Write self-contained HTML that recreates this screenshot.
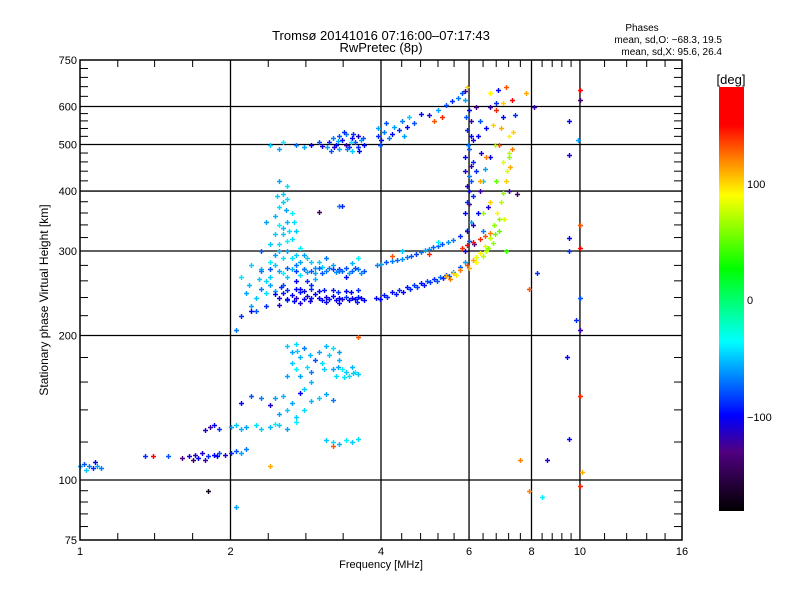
<!DOCTYPE html>
<html>
<head>
<meta charset="utf-8">
<style>
html,body{margin:0;padding:0;background:#fff;}
svg{display:block;font-family:"Liberation Sans",sans-serif;}
</style>
</head>
<body>
<svg id="chart" width="800" height="600" viewBox="0 0 800 600">
<defs>
<linearGradient id="cbar" x1="0" y1="0" x2="0" y2="1">
<stop offset="0" stop-color="#ff0000"/>
<stop offset="0.089" stop-color="#ff0000"/>
<stop offset="0.18" stop-color="#ff9000"/>
<stop offset="0.255" stop-color="#ffff00"/>
<stop offset="0.428" stop-color="#00ff00"/>
<stop offset="0.6" stop-color="#00ffff"/>
<stop offset="0.775" stop-color="#0000ff"/>
<stop offset="0.86" stop-color="#500080"/>
<stop offset="1" stop-color="#000000"/>
</linearGradient>
</defs>
<text x="381" y="40" text-anchor="middle" font-size="13">Tromsø 20141016 07:16:00–07:17:43</text>
<text x="381" y="52" text-anchor="middle" font-size="13">RwPretec (8p)</text>
<text x="642" y="31" text-anchor="middle" font-size="10">Phases</text>
<text x="722" y="43" text-anchor="end" font-size="10">mean, sd,O: −68.3, 19.5</text>
<text x="722" y="55" text-anchor="end" font-size="10">mean, sd,X:  95.6, 26.4</text>
<g id="grid"></g>
<g id="ticks"></g>
<g id="points"></g>
<rect x="80" y="60" width="602" height="480" fill="none" stroke="#000" stroke-width="1.5"/>
<text font-size="12" transform="translate(48,300) rotate(-90)" text-anchor="middle">Stationary phase Virtual Height [km]</text>
<text x="381" y="568" text-anchor="middle" font-size="11">Frequency [MHz]</text>
<rect x="719" y="87" width="25" height="424" fill="url(#cbar)"/>
<text x="731" y="84" text-anchor="middle" font-size="13">[deg]</text>
<text x="747" y="188" font-size="11">100</text>
<text x="747" y="304" font-size="11">0</text>
<text x="747" y="421" font-size="11">−100</text>
</svg>
<script>
const xTickValues = [1, 2, 4, 6, 8, 10, 16];
const xTickLabels = ["1", "2", "4", "6", "8", "10", "16"];
const xGridValues = [2, 4, 6, 8, 10];
const xMinorValues = [1.19, 1.41, 1.68, 2.38, 2.83, 3.36, 4.4, 4.8, 5.2, 5.6, 6.4, 6.8, 7.2, 7.6, 8.4, 8.8, 9.2, 9.6, 11.2, 12.4, 13.6, 14.8];
const yTickValues = [75, 100, 200, 300, 400, 500, 600, 750];
const yTickLabels = ["75", "100", "200", "300", "400", "500", "600", "750"];
const yGridValues = [100, 200, 300, 400, 500, 600];
const yMinorValues = [80, 85, 90, 95, 120, 140, 160, 180, 220, 240, 260, 280, 320, 340, 360, 380, 420, 440, 460, 480, 520, 540, 560, 580, 630, 660, 690, 720];

// [frequency MHz, virtual height km, phase deg]
const oTraceLower = [[2.45,244,-100],[2.5,239,-110],[2.55,245,-95],[2.6,238,-105],[2.65,243,-100],[2.7,240,-115],[2.75,246,-95],[2.8,238,-100],[2.85,242,-110],[2.9,239,-95],[2.95,244,-100],[3.0,240,-105],[3.05,237,-100],[3.1,241,-110],[3.15,238,-95],[3.2,242,-100],[3.25,237,-105],[3.3,240,-100],[3.35,238,-110],[3.4,241,-90],[3.45,237,-100],[3.5,240,-105],[3.55,238,-100],[3.6,241,-95],[3.65,239,-105],[3.7,237,-100],[2.6,249,-90],[2.7,250,-100],[2.8,248,-105],[2.9,250,-90],[3.0,248,-100],[3.2,249,-95],[3.4,248,-100],[3.6,249,-90],[2.75,234,-110],[3.1,235,-105],[3.3,234,-100],[2.52,252,-90],[2.68,236,-100],[2.88,236,-110],[3.08,249,-95],[3.28,247,-90],[3.48,247,-100],[3.58,235,-95],[3.9,240,-100],[4.05,243,-95],[4.2,246,-100],[4.35,249,-90],[4.5,252,-95],[4.65,255,-85],[4.8,257,-95],[4.95,260,-80],[5.1,262,-90],[5.25,265,-75],[5.4,268,-85],[5.57,271,-70],[5.75,278,-80],[5.9,285,-60],[3.98,238,-100],[4.12,241,-90],[4.28,244,-95],[4.42,247,-100],[4.58,250,-90],[4.72,253,-85],[4.88,255,-95],[5.02,258,-85],[5.18,260,-80],[5.32,263,-90],[5.48,266,-75]];
const oTraceUpper = [[2.3,272,-70],[2.4,275,-80],[2.5,273,-60],[2.6,276,-75],[2.7,272,-85],[2.8,275,-70],[2.9,273,-80],[3.0,276,-75],[3.1,272,-70],[3.2,275,-85],[3.3,273,-70],[3.4,276,-80],[3.5,273,-75],[3.6,275,-70],[3.7,272,-80],[2.85,271,-60],[2.95,277,-65],[3.05,270,-80],[3.15,277,-70],[3.25,271,-65],[3.35,272,-75],[3.45,270,-60],[3.55,277,-80],[3.65,270,-65],[3.93,280,-70],[4.1,284,-80],[4.3,287,-75],[4.51,291,-70],[4.7,296,-85],[4.9,301,-60],[5.09,306,-75],[5.3,311,-80],[5.57,316,-70],[5.75,322,-90],[5.94,332,-60],[4.0,282,-60],[4.2,286,-70],[4.4,289,-65],[4.6,293,-80],[4.8,298,-70],[5.0,303,-65],[5.2,308,-75],[5.45,313,-65],[4.4,300,-50],[4.2,293,130],[5.0,296,140],[5.2,313,-40]];
const xTrace = [[5.4,266,110],[5.57,270,100],[5.75,274,120],[5.94,280,130],[6.1,288,110],[6.3,297,90],[6.45,308,80],[6.6,320,70],[6.72,340,60],[6.84,360,90],[6.95,380,70],[7.0,397,60],[7.1,420,100],[7.25,449,110],[7.3,490,120],[7.36,530,100],[5.8,305,140],[5.94,309,150],[6.1,313,145],[6.3,318,140],[6.45,322,130],[6.6,327,120],[5.5,262,120],[5.65,268,95],[6.2,292,80],[6.5,300,70],[6.7,312,60],[6.9,330,50],[7.05,350,80],[6.4,360,60],[6.6,380,100],[6.8,420,50],[7.0,460,80],[6.9,500,130],[6.5,470,120],[6.7,550,100],[7.2,520,90],[6.3,420,110],[6.9,350,60],[7.1,300,40],[7.2,480,70],[6.8,590,140],[6.6,640,90],[7.0,610,100],[6.0,276,110],[6.2,284,90],[6.4,293,70],[6.55,305,60],[6.75,325,50],[7.15,440,80],[7.2,470,60],[6.95,540,110],[6.75,500,70]];
const nearSix = [[5.9,300,-110],[6.0,315,-80],[5.95,330,-120],[6.05,345,-60],[5.9,360,-100],[6.0,375,-130],[6.1,390,-90],[5.95,410,-110],[6.0,430,-70],[6.05,450,-120],[5.9,470,-100],[6.0,490,-80],[6.1,510,-110],[5.95,535,-90],[6.05,560,-120],[6.0,590,-100],[5.9,620,-60],[6.2,600,-130],[6.3,560,-80],[6.25,520,-100],[6.35,480,-110],[6.2,440,-90],[6.3,400,-120],[6.25,360,-100],[6.4,330,-70],[6.15,310,-130],[6.5,540,-100],[6.6,600,-120],[6.8,610,-90],[7.0,570,-100],[6.45,445,-60],[6.55,370,-110],[7.2,400,-120],[7.5,395,-140],[6.6,470,-100],[6.4,420,-50],[6.1,340,-110],[5.95,380,-90],[6.0,400,-100],[6.05,420,-80],[5.9,440,-110],[6.1,460,-90],[5.98,500,-70],[6.05,520,-100],[5.92,570,-80]];
const topBand = [[2.4,500,-50],[2.5,490,-60],[2.55,505,-40],[2.7,500,-70],[2.8,495,-60],[2.9,500,-100],[3.0,505,-80],[3.05,497,-110],[3.15,505,-90],[3.2,515,-70],[3.25,500,-100],[3.3,520,-80],[3.3,490,-60],[3.35,510,-100],[3.4,500,-120],[3.4,525,-70],[3.45,495,-90],[3.5,515,-100],[3.5,485,-50],[3.55,505,-80],[3.6,520,-110],[3.6,495,-90],[3.65,510,-60],[3.7,500,-100],[3.38,530,-90],[3.22,495,-110],[3.28,508,-60],[3.48,505,-45],[3.62,485,-100],[3.18,485,-80],[3.42,490,-70],[3.52,525,-90],[3.68,515,-80],[3.12,495,-60],[3.95,520,-90],[3.95,540,-60],[4.0,510,-100],[4.05,530,-70],[4.1,555,-80],[4.2,525,-100],[4.25,545,-60],[4.35,535,-90],[4.4,560,-70],[4.5,545,-100],[4.55,570,-50],[4.65,555,-80],[3.98,500,-80],[4.15,515,-70],[4.45,520,-60],[4.8,580,-100],[5.0,575,-110],[5.2,590,-60],[5.4,605,-80],[5.55,615,-90],[5.7,625,-70],[5.8,640,-80],[5.95,660,100],[5.9,645,-120],[5.3,570,140],[5.1,560,130]];
const spreadF = [[2.2,230,-60],[2.25,240,-50],[2.3,250,-70],[2.35,260,-45],[2.3,275,-55],[2.4,285,-40],[2.45,295,-60],[2.5,310,-45],[2.55,325,-50],[2.5,340,-40],[2.45,355,-55],[2.5,370,-45],[2.55,380,-50],[2.6,300,-60],[2.65,290,-45],[2.7,280,-70],[2.6,265,-50],[2.55,255,-80],[2.45,248,-60],[2.65,318,-45],[2.6,345,-55],[2.7,330,-50],[2.75,305,-40],[2.8,295,-60],[2.4,265,-50],[2.35,230,-90],[2.7,260,-100],[2.8,275,-70],[2.9,285,-50],[2.6,237,-80],[2.5,232,-110],[2.85,260,-90],[2.55,395,-50],[2.6,410,-45],[2.5,420,-60],[2.3,300,-80],[2.45,325,-50],[2.65,360,-40],[2.75,250,-100],[2.9,255,-90],[2.95,270,-60],[3.0,285,-50],[3.1,290,-70],[3.2,280,-60],[3.3,275,-90],[3.4,265,-100],[3.5,283,-55],[3.6,290,-40],[2.2,280,-50],[2.1,265,-45],[2.15,245,-60],[2.25,225,-80],[2.55,270,-40],[2.4,310,-50],[2.35,345,-60],[2.6,385,-45],[3.0,362,-140],[3.3,373,-70],[3.35,372,-90],[2.45,280,-50],[2.55,290,-45],[2.65,275,-55],[2.75,285,-60],[2.85,290,-50],[2.5,300,-55],[2.6,315,-40],[2.7,295,-50],[2.4,255,-60],[2.35,245,-45],[2.55,335,-55],[2.62,330,-45],[2.48,390,-50],[2.58,365,-60],[2.68,345,-45],[2.28,262,-50],[2.18,255,-55],[2.75,268,-45],[2.95,262,-55],[3.05,278,-50]];
const lowerLayers = [[2.6,190,-50],[2.65,185,-60],[2.7,192,-45],[2.75,180,-55],[2.8,188,-70],[2.65,175,-50],[2.7,170,-40],[2.75,165,-60],[2.85,172,-45],[2.9,168,-70],[2.95,178,-80],[3.0,185,-60],[3.05,175,-45],[3.1,190,-55],[3.15,182,-50],[3.2,170,-60],[3.25,165,-45],[3.3,178,-55],[3.35,170,-40],[3.4,168,-50],[3.45,165,-45],[3.5,172,-55],[3.55,168,-40],[3.6,166,-50],[3.2,188,-45],[3.3,185,-60],[2.9,160,-55],[2.6,165,-60],[2.8,155,-50],[2.72,186,-50],[2.88,182,-55],[3.08,170,-50],[3.38,164,-45],[3.52,167,-50],[3.28,172,-60],[2.1,145,-100],[2.2,150,-80],[2.3,148,-70],[2.4,143,-110],[2.45,148,-60],[2.55,150,-55],[2.6,140,-50],[2.65,145,-60],[2.75,152,-100],[2.8,140,-45],[2.9,146,-55],[3.0,148,-50],[3.1,151,-60],[3.2,147,-70],[2.7,135,-50],[2.5,137,-60],[1.78,127,-110],[1.82,129,-120],[1.85,130,-100],[1.9,128,-90],[2.0,129,-60],[2.05,130,-50],[2.1,128,-55],[2.15,129,-60],[2.25,130,-45],[2.3,128,-50],[2.4,129,-55],[2.45,131,-40],[2.5,130,-50],[2.6,128,-60],[2.7,132,-40],[3.1,121,-50],[3.2,120,-45],[3.3,119,-55],[3.4,121,-40],[3.5,120,-50],[3.6,122,-45],[1.5,112,-80],[1.6,111,-130],[1.65,112,-110],[1.7,113,-120],[1.72,111,-100],[1.75,114,-110],[1.8,112,-90],[1.85,113,-100],[1.9,114,-80],[1.95,113,-110],[2.0,114,-90],[2.05,115,-80],[2.1,114,-60],[2.15,116,-70],[1.68,110,-140],[1.78,110,-120],[1.88,112,-100],[1.0,107,-60],[1.02,108,-80],[1.04,107,-70],[1.06,106,-90],[1.08,107,-60],[1.1,106,-70],[1.03,105,-50],[1.07,109,-100]];
const scattered = [[1.35,112,-90],[1.4,112,150],[1.8,95,-170],[2.05,88,-60],[2.1,220,-90],[2.05,205,-70],[2.2,225,-100],[3.6,199,130],[2.4,107,110],[3.2,118,130],[7.9,95,120],[8.4,92,-40],[8.6,110,-110],[7.6,110,120],[10,97,140],[10.1,104,110],[9.5,122,-100],[10,150,140],[9.4,180,-100],[10,205,-120],[9.8,215,-90],[7.9,250,130],[10,240,-80],[9.5,320,-100],[10,305,150],[10,340,130],[9.5,300,-90],[8.2,270,-90],[9.5,475,-110],[9.5,560,-100],[10,620,-140],[10,650,160],[9.9,510,-60],[7.8,640,110],[8.1,600,-120],[7.3,620,150],[7.1,660,130],[6.85,650,-100],[7.4,575,-90]];

const SVGNS = "http://www.w3.org/2000/svg";
const X0 = 80, X1 = 682, Y0 = 60, Y1 = 540;
function xScale(f){ return X0 + (X1 - X0) * Math.log2(f) / 4; }
function yScale(h){ return Y0 + 480 * Math.log10(750 / h); }
const cStops = [[-180,[0,0,0]],[-130,[80,0,128]],[-100,[0,0,255]],[-37,[0,255,255]],[26,[0,255,0]],[88,[255,255,0]],[115,[255,150,0]],[148,[255,0,0]],[180,[255,0,0]]];
function color(v){
  v = Math.max(-180, Math.min(180, v));
  for (let i = 0; i < cStops.length - 1; i++){
    const a = cStops[i], b = cStops[i+1];
    if (v >= a[0] && v <= b[0]){
      const t = (v - a[0]) / (b[0] - a[0]);
      const c = a[1].map((q, k) => Math.round(q + (b[1][k] - q) * t));
      return "rgb(" + c.join(",") + ")";
    }
  }
  return "#000";
}
function line(g, x1, y1, x2, y2, w){
  const l = document.createElementNS(SVGNS, "line");
  l.setAttribute("x1", x1); l.setAttribute("y1", y1);
  l.setAttribute("x2", x2); l.setAttribute("y2", y2);
  l.setAttribute("stroke", "#000"); l.setAttribute("stroke-width", w);
  g.appendChild(l);
  return l;
}
function text(g, x, y, s, anchor){
  const t = document.createElementNS(SVGNS, "text");
  t.setAttribute("x", x); t.setAttribute("y", y);
  t.setAttribute("font-size", "11");
  t.setAttribute("text-anchor", anchor);
  t.textContent = s;
  g.appendChild(t);
  return t;
}
const grid = document.getElementById("grid");
xGridValues.forEach(v => {
  const l = line(grid, xScale(v), Y0, xScale(v), Y1, 1.3);
  
  
});
yGridValues.forEach(v => {
  const l = line(grid, X0, yScale(v), X1, yScale(v), 1.3);
  
  
});
const ticks = document.getElementById("ticks");
xMinorValues.forEach(v => {
  const x = xScale(v);
  const a = line(ticks, x, Y1, x, Y1 - 7, 1);
  
  
  const b = line(ticks, x, Y0, x, Y0 + 7, 1);
  
  
});
yMinorValues.forEach(v => {
  const y = yScale(v);
  const a = line(ticks, X0, y, X0 + 8, y, 1);
  
  
  const b = line(ticks, X1, y, X1 - 8, y, 1);
  
  
});
xTickValues.forEach((v, i) => {
  const t = text(ticks, xScale(v), 555, xTickLabels[i], "middle");
  
  
});
yTickValues.forEach((v, i) => {
  const t = text(ticks, X0 - 3, yScale(v) + 4, yTickLabels[i], "end");
  
  
});
const pts = document.getElementById("points");
function plotSeries(arr, name){
  arr.forEach(p => {
    const x = Math.round(xScale(p[0])) + 0.5, y = Math.round(yScale(p[1])) + 0.5;
    const c = color(p[2]);
    const path = document.createElementNS(SVGNS, "path");
    path.setAttribute("d", "M" + (x - 2.5) + " " + y + "H" + (x + 2.5) + "M" + x + " " + (y - 2.5) + "V" + (y + 2.5));
    path.setAttribute("stroke", c);
    path.setAttribute("stroke-width", "1.4");
    path.setAttribute("fill", "none");
    
    
    pts.appendChild(path);
  });
}
plotSeries(spreadF, "spread-f-point");
plotSeries(lowerLayers, "lower-layer-point");
plotSeries(topBand, "top-band-point");
plotSeries(oTraceUpper, "o-trace-upper-point");
plotSeries(oTraceLower, "o-trace-lower-point");
plotSeries(nearSix, "cusp-point");
plotSeries(xTrace, "x-trace-point");
plotSeries(scattered, "scattered-point");
</script>
</body>
</html>
